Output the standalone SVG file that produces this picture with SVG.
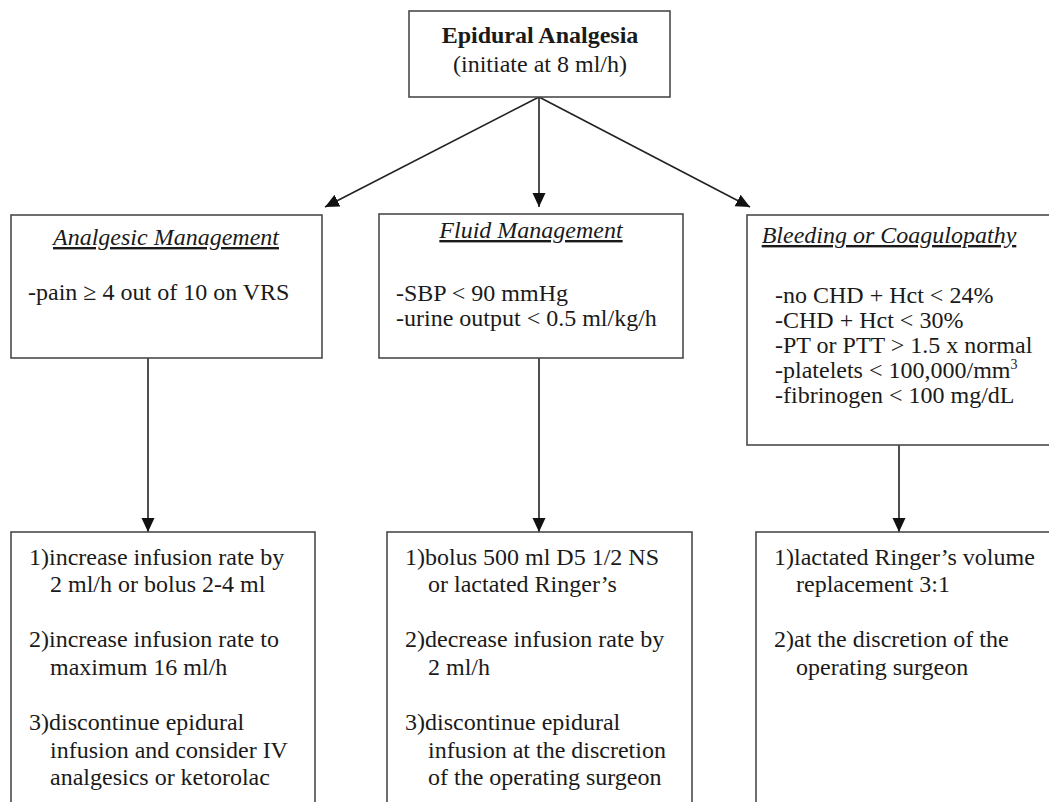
<svg xmlns="http://www.w3.org/2000/svg" width="1049" height="802" viewBox="0 0 1049 802">
<style>
  .box { fill: #ffffff; stroke: #4a4a4a; stroke-width: 1.6; }
  .t { font-family: "Liberation Serif", "Times New Roman", serif; font-size: 24px; fill: #1a1a1a; }
  .b { font-weight: bold; }
  .h { font-style: italic; text-decoration: underline; }
  .c { stroke: #222222; stroke-width: 1.6; fill: none; marker-end: url(#ah); }
</style>
<defs>
  <marker id="ah" viewBox="0 0 14 14" refX="14" refY="7" markerWidth="14" markerHeight="14" markerUnits="userSpaceOnUse" orient="auto">
    <path d="M0,0.5 L14,7 L0,13.5 Z" fill="#111111"/>
  </marker>
</defs>
<rect width="1049" height="802" fill="#ffffff"/>

<g id="connectors">
  <line class="c" x1="539" y1="97" x2="325" y2="207"/>
  <line class="c" x1="539" y1="97" x2="539" y2="207"/>
  <line class="c" x1="539" y1="97" x2="750" y2="207"/>
  <line class="c" x1="148" y1="358" x2="148" y2="532"/>
  <line class="c" x1="539" y1="358" x2="539" y2="532"/>
  <line class="c" x1="899" y1="445" x2="899" y2="532"/>
</g>

<g id="epidural">
  <rect class="box" x="409" y="11" width="261" height="86"/>
  <text class="t b" x="540" y="43" text-anchor="middle">Epidural Analgesia</text>
  <text class="t" x="540" y="72" text-anchor="middle">(initiate at 8 ml/h)</text>
</g>

<g id="analgesic">
  <rect class="box" x="11" y="215" width="311" height="143"/>
  <text class="t h" x="166" y="245" text-anchor="middle">Analgesic Management</text>
  <text class="t" x="28" y="300">-pain ≥ 4 out of 10 on VRS</text>
</g>

<g id="fluid">
  <rect class="box" x="379" y="214" width="304" height="144"/>
  <text class="t h" x="531" y="238" text-anchor="middle">Fluid Management</text>
  <text class="t" x="396" y="301">-SBP &lt; 90 mmHg</text>
  <text class="t" x="396" y="326">-urine output &lt; 0.5 ml/kg/h</text>
</g>

<g id="bleeding">
  <rect class="box" x="747" y="215" width="310" height="230"/>
  <text class="t h" x="889" y="243" text-anchor="middle">Bleeding or Coagulopathy</text>
  <text class="t" x="775" y="303">-no CHD + Hct &lt; 24%</text>
  <text class="t" x="775" y="328">-CHD + Hct &lt; 30%</text>
  <text class="t" x="775" y="353">-PT or PTT &gt; 1.5 x normal</text>
  <text class="t" x="775" y="378">-platelets &lt; 100,000/mm<tspan font-size="14" dy="-9">3</tspan></text>
  <text class="t" x="775" y="403">-fibrinogen &lt; 100 mg/dL</text>
</g>

<g id="analgesic-actions">
  <rect class="box" x="11" y="532" width="304" height="290"/>
  <text class="t" x="29" y="565">1)increase infusion rate by</text>
  <text class="t" x="50" y="592">2 ml/h or bolus 2-4 ml</text>
  <text class="t" x="29" y="647">2)increase infusion rate to</text>
  <text class="t" x="50" y="675">maximum 16 ml/h</text>
  <text class="t" x="29" y="730">3)discontinue epidural</text>
  <text class="t" x="50" y="758">infusion and consider IV</text>
  <text class="t" x="50" y="785">analgesics or ketorolac</text>
</g>

<g id="fluid-actions">
  <rect class="box" x="387" y="532" width="305" height="290"/>
  <text class="t" x="405" y="565">1)bolus 500 ml D5 1/2 NS</text>
  <text class="t" x="428" y="592">or lactated Ringer’s</text>
  <text class="t" x="405" y="647">2)decrease infusion rate by</text>
  <text class="t" x="428" y="675">2 ml/h</text>
  <text class="t" x="405" y="730">3)discontinue epidural</text>
  <text class="t" x="428" y="758">infusion at  the discretion</text>
  <text class="t" x="428" y="785">of the operating surgeon</text>
</g>

<g id="bleeding-actions">
  <rect class="box" x="756" y="532" width="310" height="290"/>
  <text class="t" x="774" y="565">1)lactated Ringer’s volume</text>
  <text class="t" x="796" y="592">replacement 3:1</text>
  <text class="t" x="774" y="647">2)at the discretion of the</text>
  <text class="t" x="796" y="675">operating surgeon</text>
</g>
</svg>
